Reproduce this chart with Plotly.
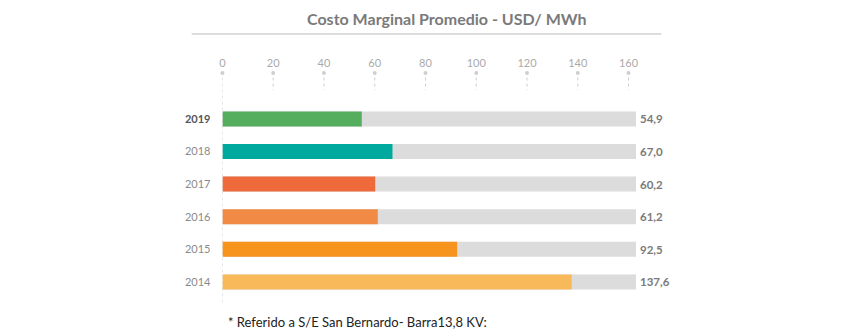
import plotly.graph_objects as go

# Average marginal cost per year (USD/MWh)
years = ["2019", "2018", "2017", "2016", "2015", "2014"]
costs = [54.9, 67.0, 60.2, 61.2, 92.5, 137.6]
colors = ["#55AE5E", "#00A99D", "#EE6A3A", "#F08A45", "#F7941D", "#F8B95A"]
track_max = 163
tick_values = [0, 20, 40, 60, 80, 100, 120, 140, 160]

pos = list(range(len(years)))
value_text = [f"{v:.1f}".replace(".", ",") for v in costs]
year_text = [f"<b><span style='color:#555'>{y}</span></b>" if i == 0 else y
             for i, y in enumerate(years)]

fig = go.Figure()

# light grey track behind each bar
fig.add_trace(go.Bar(
    y=pos, x=[track_max] * len(years), orientation="h",
    marker=dict(color="#DCDCDC", line=dict(width=0)),
    width=0.46, hoverinfo="skip", showlegend=False,
))
# coloured value bars
fig.add_trace(go.Bar(
    y=pos, x=costs, orientation="h",
    marker=dict(color=colors, line=dict(width=0)),
    width=0.46, showlegend=False,
))
# small dots under each tick label
fig.add_trace(go.Scatter(
    x=tick_values, y=[-1.41] * len(tick_values), mode="markers",
    marker=dict(color="#CFCFCF", size=4), cliponaxis=False,
    showlegend=False, hoverinfo="skip",
))

# value labels just past the end of each track
for p, txt in zip(pos, value_text):
    fig.add_annotation(
        x=track_max, y=p, xref="x", yref="y", text=f"<b>{txt}</b>",
        xanchor="left", yanchor="middle", xshift=2, showarrow=False,
        font=dict(family="Lato", size=11.5, color="#7a7a7a"),
    )

# short dotted guides under the ticks; the zero guide runs the full height
for t in tick_values:
    y_end = 5.7 if t == 0 else -0.88
    fig.add_shape(type="line", xref="x", yref="y", x0=t, x1=t, y0=-1.27, y1=y_end,
                  line=dict(color="#CFCFCF", width=1, dash="dot"), layer="below")

# rule under the title
fig.add_shape(type="line", xref="paper", yref="paper",
              x0=190 / 854, x1=663 / 854, y0=1 - 34 / 336, y1=1 - 34 / 336,
              line=dict(color="#DDDDDD", width=2))

fig.add_annotation(
    text="<b>Costo Marginal Promedio - USD/ MWh</b>",
    xref="paper", yref="paper", x=447 / 854, y=1 - 18 / 336,
    xanchor="center", yanchor="middle", showarrow=False,
    font=dict(family="Lato", size=16, color="#7a7a7a"),
)
fig.add_annotation(
    text="* Referido a S/E San Bernardo- Barra13,8 KV:",
    xref="paper", yref="paper", x=225 / 854, y=1 - 322 / 336,
    xanchor="left", yanchor="middle", showarrow=False,
    font=dict(family="Lato", size=13, color="#222222"),
)

fig.update_layout(
    width=854, height=336,
    margin=dict(l=0, r=0, t=0, b=0),
    paper_bgcolor="white", plot_bgcolor="white",
    barmode="overlay",
    xaxis=dict(
        domain=[221 / 854, 637.6 / 854], range=[0, track_max],
        side="top", tickvals=tick_values, showgrid=False, zeroline=False,
        showline=False, ticks="",
        tickfont=dict(family="Lato", size=11, color="#AAAAAA"),
    ),
    yaxis=dict(
        domain=[1 - 304.7 / 336, 1 - 70 / 336], range=[5.7, -1.5],
        tickvals=pos, ticktext=year_text, showgrid=False, zeroline=False,
        showline=False, ticks="", ticklabelstandoff=11,
        tickfont=dict(family="Lato", size=11, color="#8a8a8a"),
    ),
)

fig.write_html("out.html")
